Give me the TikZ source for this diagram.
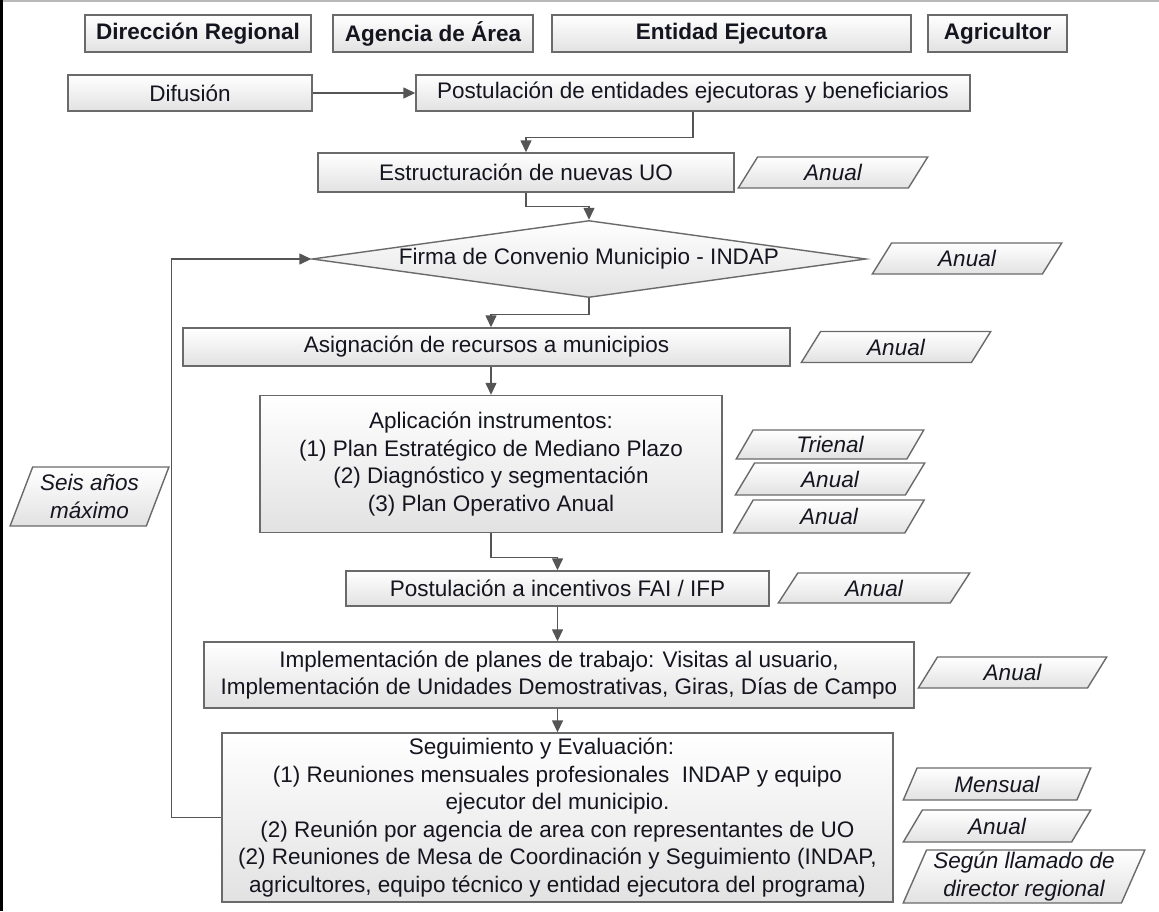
\documentclass[tikz,border=0pt]{standalone}
\usepackage{fontspec}
\setmainfont{Liberation Sans}
\usetikzlibrary{shapes.geometric,arrows.meta}
\definecolor{bord}{HTML}{6A6A6A}
\definecolor{conn}{HTML}{555555}
\definecolor{shadeB}{HTML}{E2E2E2}
\definecolor{txt}{HTML}{151520}
\newcommand{\fsz}{\fontsize{22.5}{27.6}\selectfont}
\begin{document}
\begin{tikzpicture}[x=1pt,y=-1pt,
  every node/.style={font=\fsz, text=txt},
  box/.style={draw=bord, line width=1.4pt, top color=white, bottom color=shadeB, inner sep=0pt, align=center},
  hdr/.style={box, font=\fsz\bfseries},
  para/.style={trapezium, trapezium left angle=66, trapezium right angle=114, trapezium stretches=true,
    draw=bord, line width=1.4pt, top color=white, bottom color=shadeB, inner sep=0pt, align=center, font=\fsz\itshape},
  arr/.style={draw=conn, line width=1.4pt, -{Triangle[length=12pt,width=11pt]}},
  ln/.style={draw=conn, line width=1.4pt}
]
\path[use as bounding box] (0,0) rectangle (1159,911);
\fill[white] (0,0) rectangle (1159,911);
\draw[gray!55, line width=1.5pt] (0,0.75) -- (1159,0.75);
\fill[black] (0,0) rectangle (2.5,911);

% headers
\node[hdr, minimum width=226, minimum height=37] (dr) at (198,33.5) {Dirección Regional};
\node[hdr, minimum width=200, minimum height=37] (aa) at (433,33.5) {Agencia de Área};
\node[hdr, minimum width=359, minimum height=37] (ee) at (731.5,33.5) {Entidad Ejecutora};
\node[hdr, minimum width=139, minimum height=37] (ag) at (997.5,33.5) {Agricultor};

% row 2
\node[box, minimum width=244, minimum height=36] (dif) at (190,93) {Difusión};
\node[box, minimum width=554, minimum height=36] (post) at (693,93) {Postulación de entidades ejecutoras y beneficiarios};

% estructuracion
\node[box, minimum width=416, minimum height=39] (estr) at (526,172.5) {Estructuración de nuevas UO};
\node[para, minimum width=190, minimum height=31] (p1) at (833,172.5) {Anual};

% diamond
\node[diamond, aspect=7.2, draw=bord, line width=1.4pt, top color=white, bottom color=shadeB, inner sep=0pt,
  minimum width=554, minimum height=77] (firma) at (589,259) {Firma de Convenio Municipio - INDAP};
\node[para, minimum width=190, minimum height=31] (p2) at (967,258.5) {Anual};

% asignacion
\node[box, minimum width=607, minimum height=38] (asig) at (486.5,347) {Asignación de recursos a municipios};
\node[para, minimum width=190, minimum height=31] (p3) at (896,347) {Anual};

% aplicacion
\node[box, minimum width=462, minimum height=137] (apl) at (491,464) {Aplicación instrumentos:\\(1) Plan Estratégico de Mediano Plazo\\(2) Diagnóstico y segmentación\\(3) Plan Operativo Anual};
\node[para, minimum width=188, minimum height=29] (p4) at (830,444.5) {Trienal};
\node[para, minimum width=190, minimum height=32] (p5) at (830,479) {Anual};
\node[para, minimum width=191, minimum height=33] (p6) at (829,516.5) {Anual};

% postulacion a incentivos
\node[box, minimum width=423, minimum height=35] (inc) at (557.5,588.5) {Postulación a incentivos FAI / IFP};
\node[para, minimum width=192, minimum height=30] (p7) at (874,588) {Anual};

% implementacion
\node[box, minimum width=710, minimum height=66] (impl) at (559,675) {Implementación de planes de trabajo: Visitas al usuario,\\Implementación de Unidades Demostrativas, Giras, Días de Campo};
\node[para, minimum width=189, minimum height=31] (p8) at (1012.5,672.5) {Anual};

% seguimiento
\node[box, minimum width=671, minimum height=169] (seg) at (557.5,817.5) {Seguimiento y Evaluación:\hspace*{32pt}\\(1) Reuniones mensuales profesionales\ \ INDAP y equipo\\ejecutor del municipio.\hspace*{140pt}\\(2) Reunión por agencia de area con representantes de UO\hspace*{30pt}\\(2) Reuniones de Mesa de Coordinación y Seguimiento (INDAP,\\agricultores, equipo técnico y entidad ejecutora del programa)};
\node[para, minimum width=188, minimum height=32] (p9) at (997,784) {Mensual};
\node[para, minimum width=188, minimum height=32] (p10) at (997,826) {Anual};
\node[para, minimum width=242, minimum height=53] (p11) at (1024,876.5) {Según llamado de\\director regional};

% seis años
\node[para, minimum width=159, minimum height=59] (p12) at (89.5,496.5) {Seis años\\máximo};

% connectors
\draw[arr] (dif.east) -- (post.west);
\draw[arr] (post.south) -- ++(0,26) -| (estr.north);
\draw[arr] (estr.south) -- ++(0,14) -| (firma.north);
\draw[arr] (firma.south) -- ++(0,16) -| (asig.north -| apl.north);
\draw[arr] (asig.south -| apl.north) -- (apl.north);
\draw[arr] (apl.south) -- ++(0,24) -| (inc.north);
\draw[arr] (inc.south) -- (inc.south |- impl.north);
\draw[arr] (inc.south |- impl.south) -- (inc.south |- seg.north);
\draw[arr] (seg.west) -- ++(-50,0) |- (firma.west);
\end{tikzpicture}
\end{document}
